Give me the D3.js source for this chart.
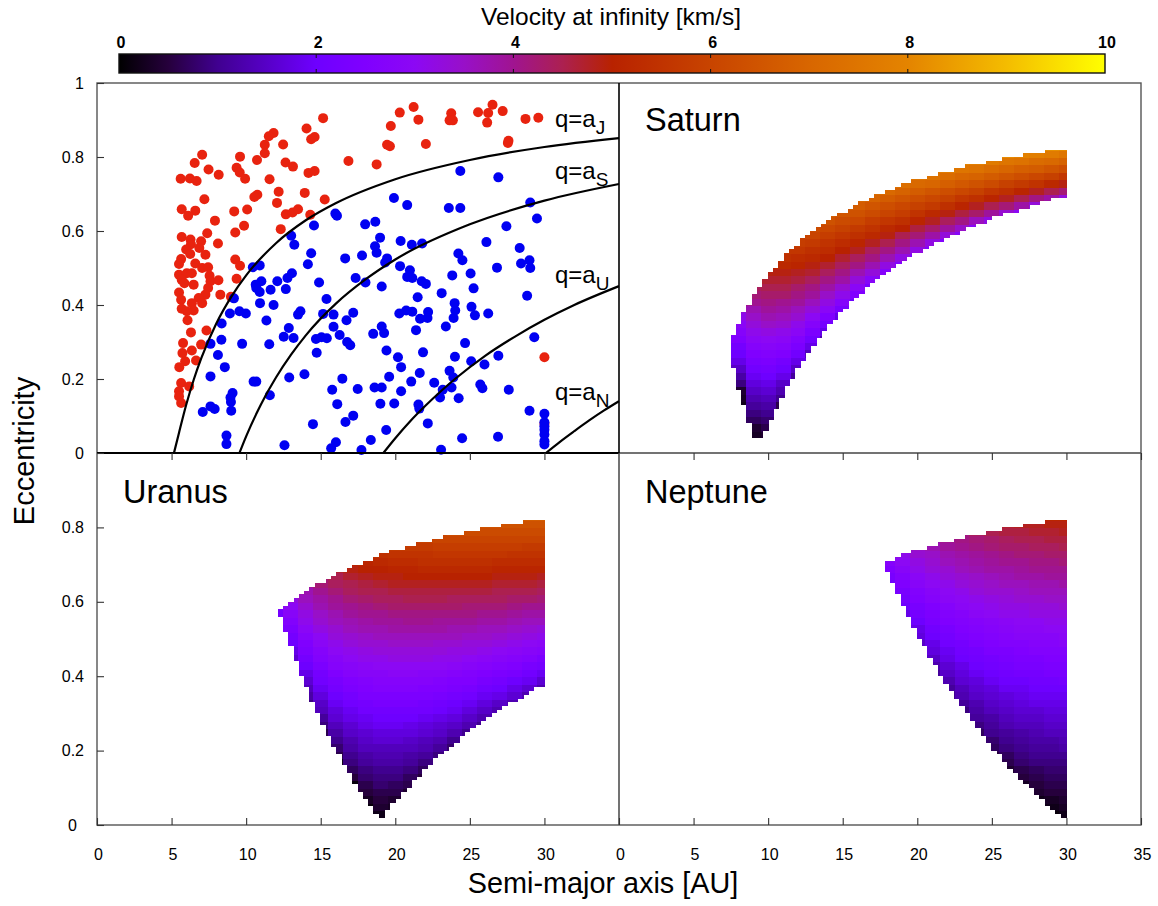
<!DOCTYPE html>
<html>
<head>
<meta charset="utf-8">
<script src="https://cdn.jsdelivr.net/npm/d3@7"></script>
<style>
body { margin: 0; background: #fff; }
text { font-family: "Liberation Sans", Arial, sans-serif; fill: #000; }
</style>
</head>
<body>
<script>
// colour scale of the bar, km/s -> colour
var paletteV = [0, .5, 1, 2, 2.5, 3, 3.5, 4, 4.5, 5, 6, 7, 8, 9, 10];
var paletteC = ['#000000', '#26003c', '#400090', '#6e00ff', '#8000ff', '#8c08f4', '#9810c8', '#a01490', '#ac2050', '#b82200', '#c84400', '#d86600', '#e48400', '#f4bc00', '#ffff00'];
var barTicks = [0, 2, 4, 6, 8, 10];

var xTicksLeft = [0, 5, 10, 15, 20, 25, 30];
var xTicksRight = [0, 5, 10, 15, 20, 25, 30, 35];
var yTicksTop = [0, .2, .4, .6, .8, 1];
var yTicksBottom = [0, .2, .4, .6, .8];

// objects of the first panel
var redA = [15.16,20.3,21.23,21.55,19.7,23.75,23.64,23.86,25.55,26.52,26.23,26.16,27.2,28.73,29.59,14.05,14.36,14.59,11.84,11.52,12.48,11.25,11.25,19.45,19.64,22.05,27.59,27.55,7.05,9.59,10.73,6.55,7.48,8.16,9.36,9.57,9.93,12.64,13.14,14.18,14.59,16.86,18.75,5.61,6.23,6.68,11.57,12.18,13.93,10.75,10.55,7.2,15.27,12.07,5.68,6.59,6.11,9.2,10.07,12.66,13.11,13.48,14.3,7.91,9.86,7.39,9.27,12.32,5.68,6.27,6.98,8.11,6.3,5.98,6.86,7.27,6.25,5.64,5.5,9.27,9.59,6.59,7.05,7.45,5.5,6.02,6.36,5.68,5.86,6.48,7.55,7.61,8.14,9.36,7.45,7.27,5.5,6.82,8.27,8.98,5.64,6.36,7.05,5.68,6.48,6.02,6.07,6.3,7.34,5.77,6.98,6.36,5.73,5.91,6.64,5.52,5.64,6.18,5.5,5.5,5.64,30,30];
var redE = [.905,.92,.935,.901,.884,.918,.899,.899,.921,.941,.919,.893,.924,.903,.906,.877,.848,.854,.865,.856,.834,.833,.81,.833,.829,.835,.844,.838,.806,.801,.792,.784,.766,.752,.771,.758,.741,.785,.774,.757,.762,.789,.78,.741,.742,.735,.74,.706,.703,.698,.692,.686,.685,.676,.659,.655,.641,.653,.658,.645,.65,.659,.644,.628,.614,.594,.596,.605,.584,.577,.572,.566,.564,.55,.554,.536,.538,.524,.511,.523,.506,.512,.5,.502,.482,.486,.486,.468,.459,.455,.479,.464,.467,.471,.446,.428,.434,.419,.428,.422,.414,.405,.405,.39,.385,.383,.359,.326,.331,.297,.293,.277,.27,.248,.25,.232,.189,.18,.167,.153,.135,.259,.079];
var blueA = [24.36,26.91,19.91,20.8,23.59,24.36,29.05,29.5,27.45,15.98,16.09,14.55,17.98,18.66,13.02,13.23,18.98,20.36,21.11,21.8,26.11,28.34,14.36,14.14,16.64,17.77,18.64,18.75,19.45,19.32,24.23,24.5,26.82,28.43,29,29.05,20.32,20.98,20.8,21.14,21.77,22.05,23.82,25.05,25.25,23.11,21.5,28.84,10.45,10.91,13.07,12.77,12.09,11.02,10.64,12.66,11.64,10.91,10.68,14.89,17.34,18,19.09,9.18,10.93,15.39,23.98,24.02,23.91,25.11,25.34,26.23,20.27,20.73,21.14,22.2,21.66,22.16,23.39,8.91,9.55,9.98,8.36,11.84,11.36,13.64,13.48,15.16,15.86,17.18,16.73,12.86,15.86,19.09,19.25,18.52,21.39,16.27,12.52,13.18,14.68,15.05,15.41,16.77,16.98,8.34,7.61,9.73,11.55,24.68,29.32,19.41,14.73,21.86,8.11,20.18,24,26.91,25.09,25.98,8.57,20.39,23.64,21.64,7.61,12.89,13.91,16.45,19.59,23.89,10.5,10.68,21.07,22.61,15.77,17.48,18.61,19.09,20.39,23.77,23.18,25.7,25.84,27.61,9.09,8.95,8.98,11.59,23,24.25,16.11,19,19.93,21.55,21.61,7.61,7.89,7.09,9,17.18,16.66,14.48,22.18,19.39,29,30,30,30,30,30,30,30,8.68,8.68,12.57,16.02,15.7,18.36,17.73,24.48,26.89,23.07];
var blueE = [.762,.745,.689,.67,.662,.662,.677,.634,.613,.647,.641,.615,.618,.625,.587,.563,.582,.573,.563,.566,.57,.554,.54,.51,.526,.534,.559,.541,.526,.515,.539,.521,.501,.512,.521,.5,.505,.494,.476,.473,.464,.457,.48,.485,.445,.432,.421,.425,.502,.507,.486,.473,.464,.464,.455,.443,.441,.435,.446,.461,.473,.461,.45,.418,.405,.416,.405,.385,.365,.395,.372,.377,.377,.385,.382,.381,.363,.365,.342,.377,.383,.377,.35,.4,.358,.383,.374,.376,.374,.379,.359,.338,.341,.342,.324,.322,.332,.319,.314,.311,.308,.313,.31,.3,.291,.306,.295,.295,.294,.297,.313,.277,.271,.272,.265,.259,.26,.263,.248,.239,.232,.232,.222,.216,.207,.204,.213,.201,.206,.204,.193,.193,.193,.19,.171,.173,.177,.177,.167,.177,.171,.185,.175,.171,.162,.15,.138,.156,.15,.148,.132,.133,.134,.131,.12,.126,.119,.111,.114,.101,.084,.078,.08,.062,.114,.106,.083,.072,.063,.05,.032,.023,.047,.024,.021,.029,.013,.035,.008,.04,.044,.009];

// the q = a_planet curves
var curveJA = [5.16,5.5,6,6.5,7,8,9,10,12,14,16,20,25,30,35];
var curveJE = [0,.055,.133,.2,.257,.35,.422,.48,.567,.629,.675,.74,.792,.827,.851];
var curveSA = [9.55,10,11,12,13,14,16,18,20,25,30,35];
var curveSE = [0,.045,.132,.204,.265,.318,.403,.469,.523,.618,.682,.727];
var curveUA = [19.2,20,21,22,23,24,26,28,30,32,35];
var curveUE = [0,.04,.086,.127,.165,.2,.262,.314,.36,.4,.451];
var curveNA = [30.1,31,32,33,34,35];
var curveNE = [0,.029,.059,.088,.115,.14];

// outline of the coloured regions, one entry per narrow column
var edgeA = [29.82,29.46,29.11,28.75,28.39,28.04,27.68,27.32,26.96,26.61,26.25,25.89,25.54,25.18,24.82,24.46,24.11,23.75,23.39,23.04,22.68,22.32,21.96,21.61,21.25,20.89,20.54,20.18,19.82,19.46,19.11,18.75,18.39,18.04,17.68,17.32,16.96,16.61,16.25,15.89,15.54,15.18,14.82,14.46,14.11,13.75,13.39,13.04,12.68,12.32,11.96,11.61,11.25,10.89,10.54,10.18,9.82,9.46,9.11,8.75,8.39,8.04,7.68];
var edgeTop = [.82,.82,.82,.82,.81,.81,.81,.81,.8,.8,.8,.8,.79,.79,.79,.78,.78,.78,.78,.77,.77,.76,.76,.76,.75,.75,.74,.74,.74,.73,.73,.72,.71,.71,.7,.7,.69,.68,.68,.67,.66,.65,.65,.64,.63,.62,.61,.6,.59,.58,.56,.55,.54,.52,.5,.49,.47,.45,.43,.4,.38,.35,.32];
var saturnBottom = [.69,.69,.69,.68,.68,.67,.67,.66,.66,.65,.65,.65,.64,.64,.63,.62,.62,.61,.61,.6,.59,.59,.58,.57,.57,.56,.55,.54,.54,.53,.52,.51,.5,.49,.48,.47,.46,.45,.43,.42,.41,.39,.38,.36,.35,.33,.31,.29,.27,.25,.23,.2,.18,.15,.12,.09,.06,.04,.04,.08,.13,.17,.23];
var uranusBottom = [.37,.37,.36,.35,.34,.33,.33,.32,.31,.3,.29,.28,.27,.26,.25,.24,.22,.21,.2,.19,.18,.16,.15,.13,.12,.1,.09,.07,.06,.04,.02,.03,.05,.07,.09,.11,.14,.16,.19,.21,.24,.27,.3,.33,.37,.4,.44,.48,.52,.56];
var neptuneBottom = [.02,.03,.04,.05,.07,.08,.1,.11,.12,.14,.15,.17,.19,.2,.22,.24,.26,.28,.3,.32,.34,.36,.38,.4,.43,.45,.48,.5,.53,.56,.59,.62,.65,.68];

// velocity read column by column, rows are 0.02 tall and start at the *Start value
var saturnCol = [8,9,10,11,12,13,14,15,16,17,18,19,20,21,22,23,24,25,26,27,28,29,30];
var saturnStart = [.12,.02,.04,.1,.18,.26,.3,.36,.4,.44,.46,.5,.52,.54,.56,.58,.6,.62,.64,.64,.66,.66,.68];
var saturnV = [
[.2,.3,.4,.9,1.2,1.5,1.8,2,2.2,2.5,2.7,2.9,3.1,3.3],
[.3,.3,.4,.7,.9,1.1,1.3,1.5,1.7,1.9,2.1,2.3,2.5,2.7,2.9,3.1,3.3,3.5,3.7,4,4.2,4.4],
[.4,.6,.8,1,1.2,1.4,1.6,1.8,2,2.2,2.4,2.6,2.8,3,3.2,3.5,3.7,3.9,4.1,4.3,4.5,4.7,4.9,5.1],
[.3,.6,1,1.3,1.5,1.8,2,2.2,2.5,2.7,2.9,3.1,3.4,3.6,3.8,4,4.3,4.5,4.7,4.9,5.2,5.4,5.6],
[.6,1.1,1.5,1.8,2.1,2.4,2.6,2.9,3.1,3.4,3.6,3.9,4.1,4.3,4.6,4.8,5.1,5.3,5.6,5.8],
[1.4,1.8,2.1,2.4,2.7,3,3.3,3.6,3.9,4.1,4.4,4.7,4.9,5.2,5.4,5.7,6,6.2],
[1.3,1.8,2.2,2.5,2.9,3.2,3.5,3.8,4.1,4.4,4.7,5,5.3,5.5,5.8,6.1,6.4,6.7],
[1.8,2.3,2.7,3.1,3.4,3.8,4.1,4.4,4.7,5,5.3,5.6,5.9,6.2,6.5],
[2,2.5,2.9,3.3,3.7,4.1,4.4,4.8,5.1,5.4,5.7,6.1,6.4,6.7,7],
[2.3,2.8,3.3,3.7,4.1,4.4,4.8,5.2,5.5,5.8,6.2,6.5,6.9,7.2],
[2.1,2.7,3.2,3.7,4.1,4.5,4.9,5.2,5.6,6,6.3,6.7,7.1,7.4],
[2.6,3.2,3.7,4.1,4.5,5,5.4,5.8,6.1,6.5,6.9,7.3],
[2.6,3.2,3.7,4.2,4.6,5.1,5.5,5.9,6.3,6.7,7.1,7.5],
[2.6,3.2,3.8,4.3,4.8,5.2,5.7,6.1,6.5,7,7.4,7.8],
[2.6,3.3,3.9,4.4,4.9,5.4,5.9,6.3,6.8,7.2,7.7],
[2.8,3.5,4.1,4.6,5.1,5.6,6.1,6.6,7,7.5,8],
[2.9,3.6,4.3,4.8,5.4,5.9,6.4,6.9,7.4,7.8],
[3.2,3.9,4.5,5.1,5.6,6.2,6.7,7.2,7.7],
[3.4,4.2,4.8,5.4,5.9,6.5,7,7.5,8.1],
[3,3.8,4.5,5.1,5.7,6.3,6.8,7.4,7.9],
[3.3,4.1,4.8,5.5,6.1,6.7,7.2,7.8,8.4],
[2.8,3.8,4.5,5.2,5.9,6.5,7.1,7.7,8.2],
[3.3,4.2,4.9,5.6,6.3,6.9,7.5,8.1]
];

var uranusCol = [12,13,14,15,16,17,18,19,20,21,22,23,24,25,26,27,28,29,30];
var uranusStart = [.54,.42,.32,.24,.16,.1,.04,.02,.04,.08,.12,.16,.2,.24,.26,.3,.32,.34,.36];
var uranusV = [
[1.9,2.2,2.4],
[1.3,1.6,1.8,2,2.2,2.4,2.6,2.8,3,3.2],
[.9,1.2,1.4,1.6,1.8,2,2.2,2.4,2.5,2.7,2.9,3.1,3.2,3.4,3.6,3.7,3.9],
[.6,.9,1.1,1.4,1.5,1.7,1.9,2.1,2.2,2.4,2.6,2.7,2.9,3,3.2,3.4,3.5,3.7,3.8,4,4.2],
[.2,.6,.8,1,1.2,1.4,1.6,1.7,1.9,2,2.2,2.3,2.5,2.7,2.8,3,3.1,3.3,3.4,3.6,3.7,3.9,4,4.2,4.4,4.5,4.7],
[.1,.5,.7,.9,1,1.2,1.3,1.5,1.6,1.8,1.9,2.1,2.2,2.4,2.5,2.7,2.8,3,3.1,3.3,3.4,3.6,3.7,3.9,4,4.2,4.4,4.5,4.7,4.9,5],
[.1,.3,.5,.6,.8,.9,1.1,1.2,1.4,1.5,1.6,1.8,1.9,2.1,2.2,2.4,2.5,2.6,2.8,2.9,3.1,3.2,3.4,3.5,3.7,3.8,4,4.1,4.3,4.5,4.6,4.8,5,5.1],
[.2,.4,.5,.6,.8,.9,1,1.2,1.3,1.4,1.6,1.7,1.9,2,2.1,2.3,2.4,2.6,2.7,2.8,3,3.1,3.3,3.4,3.6,3.7,3.9,4,4.2,4.4,4.5,4.7,4.9,5,5.2,5.4],
[.3,.4,.6,.7,.9,1,1.2,1.3,1.4,1.6,1.7,1.9,2,2.1,2.3,2.4,2.6,2.7,2.9,3,3.2,3.3,3.5,3.6,3.8,3.9,4.1,4.3,4.4,4.6,4.8,4.9,5.1,5.3,5.5,5.7],
[.4,.6,.7,.9,1.1,1.2,1.4,1.5,1.7,1.8,2,2.1,2.3,2.4,2.6,2.7,2.9,3,3.2,3.3,3.5,3.6,3.8,4,4.1,4.3,4.5,4.6,4.8,5,5.1,5.3,5.5,5.7],
[.5,.7,.9,1.1,1.3,1.4,1.6,1.7,1.9,2.1,2.2,2.4,2.5,2.7,2.8,3,3.2,3.3,3.5,3.6,3.8,4,4.1,4.3,4.5,4.6,4.8,5,5.2,5.4,5.5,5.7,5.9],
[.6,.9,1.1,1.3,1.5,1.6,1.8,2,2.1,2.3,2.5,2.6,2.8,3,3.1,3.3,3.4,3.6,3.8,3.9,4.1,4.3,4.5,4.6,4.8,5,5.2,5.4,5.6,5.8,6],
[.8,1,1.3,1.5,1.7,1.9,2,2.2,2.4,2.5,2.7,2.9,3.1,3.2,3.4,3.6,3.7,3.9,4.1,4.3,4.4,4.6,4.8,5,5.2,5.4,5.6,5.8,6,6.2],
[1,1.3,1.5,1.7,1.9,2.1,2.3,2.5,2.6,2.8,3,3.2,3.3,3.5,3.7,3.9,4.1,4.2,4.4,4.6,4.8,5,5.2,5.4,5.6,5.8,6,6.2],
[1,1.3,1.5,1.7,1.9,2.1,2.3,2.5,2.7,2.9,3.1,3.3,3.5,3.6,3.8,4,4.2,4.4,4.6,4.8,5,5.2,5.4,5.6,5.8,6,6.2,6.4],
[1.3,1.5,1.8,2,2.2,2.4,2.6,2.8,3,3.2,3.4,3.6,3.8,4,4.2,4.4,4.5,4.7,4.9,5.1,5.3,5.6,5.8,6,6.2,6.4],
[1.3,1.6,1.8,2,2.3,2.5,2.7,2.9,3.1,3.3,3.5,3.7,3.9,4.1,4.3,4.5,4.7,4.9,5.1,5.3,5.5,5.8,6,6.2,6.4,6.7],
[1.3,1.6,1.9,2.1,2.3,2.6,2.8,3,3.2,3.4,3.6,3.8,4,4.3,4.5,4.7,4.9,5.1,5.3,5.5,5.7,6,6.2,6.4,6.7],
[1.3,1.6,1.9,2.2,2.4,2.7,2.9,3.1,3.3,3.6,3.8,4,4.2,4.4,4.6,4.8,5.1,5.3,5.5,5.7,6,6.2,6.4,6.7]
];

var neptuneCol = [18,19,20,21,22,23,24,25,26,27,28,29,30];
var neptuneStart = [.64,.56,.48,.4,.34,.3,.24,.18,.14,.1,.06,.02,.02];
var neptuneV = [
[2.1,2.3,2.5,2.7],
[1.8,2,2.2,2.3,2.5,2.6,2.8,3,3.1],
[1.5,1.7,1.8,2,2.2,2.3,2.5,2.6,2.8,2.9,3.1,3.2,3.4,3.5],
[1.1,1.3,1.5,1.7,1.8,2,2.1,2.3,2.4,2.5,2.7,2.8,3,3.1,3.3,3.4,3.5,3.7],
[1,1.1,1.3,1.5,1.6,1.8,1.9,2.1,2.2,2.3,2.5,2.6,2.7,2.9,3,3.1,3.3,3.4,3.6,3.7,3.9,4],
[.9,1.1,1.3,1.4,1.6,1.7,1.8,2,2.1,2.2,2.4,2.5,2.6,2.7,2.9,3,3.1,3.3,3.4,3.6,3.7,3.8,4,4.1],
[.7,.9,1.1,1.2,1.3,1.5,1.6,1.7,1.9,2,2.1,2.2,2.4,2.5,2.6,2.7,2.9,3,3.1,3.3,3.4,3.5,3.7,3.8,3.9,4.1,4.2,4.4],
[.5,.7,.8,1,1.1,1.2,1.4,1.5,1.6,1.7,1.9,2,2.1,2.2,2.4,2.5,2.6,2.7,2.8,3,3.1,3.2,3.4,3.5,3.6,3.8,3.9,4,4.2,4.3,4.5],
[.4,.6,.7,.9,1,1.1,1.3,1.4,1.5,1.6,1.7,1.9,2,2.1,2.2,2.3,2.4,2.6,2.7,2.8,2.9,3.1,3.2,3.3,3.4,3.6,3.7,3.8,4,4.1,4.3,4.4,4.6,4.7],
[.3,.5,.6,.8,.9,1,1.1,1.2,1.4,1.5,1.6,1.7,1.8,1.9,2,2.2,2.3,2.4,2.5,2.6,2.8,2.9,3,3.1,3.2,3.4,3.5,3.6,3.8,3.9,4,4.2,4.3,4.5,4.6,4.8],
[.2,.4,.5,.6,.7,.9,1,1.1,1.2,1.3,1.4,1.5,1.6,1.8,1.9,2,2.1,2.2,2.3,2.4,2.6,2.7,2.8,2.9,3,3.2,3.3,3.4,3.6,3.7,3.8,4,4.1,4.2,4.4,4.5,4.7,4.8,5],
[.1,.2,.3,.5,.6,.7,.8,.9,1,1.1,1.2,1.4,1.5,1.6,1.7,1.8,1.9,2,2.1,2.3,2.4,2.5,2.6,2.7,2.8,3,3.1,3.2,3.3,3.5,3.6,3.7,3.9,4,4.1,4.3,4.4,4.6,4.7,4.9,5.1],
[.2,.3,.4,.5,.6,.7,.8,.9,1,1.2,1.3,1.4,1.5,1.6,1.7,1.8,1.9,2,2.2,2.3,2.4,2.5,2.6,2.8,2.9,3,3.1,3.2,3.4,3.5,3.6,3.8,3.9,4,4.2,4.3,4.5,4.6,4.8,4.9,5.1]
];

var ROW_H = 0.02,
    EDGE_HALF = 0.1785,
    DOT_R = 5,
    TICK = 7;

var width = 1158, height = 906;
var LEFT = 97, MID = 619, RIGHT = 1141, TOP = 83, MIDY = 453, BOTTOM = 825;

var svg = d3.select('body').append('svg')
    .attr('width', width)
    .attr('height', height)
    .style('display', 'block');

var color = d3.scaleLinear().domain(paletteV).range(paletteC).clamp(true);

var xLeft = d3.scaleLinear().domain([0, 35]).range([LEFT, MID]),
    xRight = d3.scaleLinear().domain([0, 35]).range([MID, RIGHT]),
    yTop = d3.scaleLinear().domain([0, 1]).range([MIDY, TOP]),
    yBottom = d3.scaleLinear().domain([0, 1]).range([BOTTOM, MIDY]);

// heat regions: cells from the velocity table, trimmed by the stepped outline
function drawRegion(id, x, y, cols, starts, values, bottoms) {
    var clip = svg.append('clipPath').attr('id', id);
    // rounded to whole pixels so neighbouring columns leave no seam
    clip.selectAll('rect').data(bottoms).enter().append('rect')
        .attr('x', function (d, i) { return Math.floor(x(edgeA[i] - EDGE_HALF)); })
        .attr('width', function (d, i) { return Math.ceil(x(edgeA[i] + EDGE_HALF)) - Math.floor(x(edgeA[i] - EDGE_HALF)); })
        .attr('y', function (d, i) { return Math.round(y(edgeTop[i])); })
        .attr('height', function (d, i) { return Math.round(y(d)) - Math.round(y(edgeTop[i])); });

    var cells = [];
    values.forEach(function (col, i) {
        col.forEach(function (v, j) {
            cells.push({ a: cols[i], e: starts[i] + j * ROW_H, v: v });
        });
    });

    svg.append('g').attr('clip-path', 'url(#' + id + ')')
        .attr('shape-rendering', 'crispEdges')
        .selectAll('rect').data(cells).enter().append('rect')
        .attr('x', function (d) { return x(d.a - 0.5); })
        .attr('width', function (d) { return x(d.a + 0.5) - x(d.a - 0.5) + 1; })
        .attr('y', function (d) { return y(d.e + ROW_H); })
        .attr('height', function (d) { return y(d.e) - y(d.e + ROW_H) + 1; })
        .attr('fill', function (d) { return color(d.v); });
}

drawRegion('clipSaturn', xRight, yTop, saturnCol, saturnStart, saturnV, saturnBottom);
drawRegion('clipUranus', xLeft, yBottom, uranusCol, uranusStart, uranusV, uranusBottom);
drawRegion('clipNeptune', xRight, yBottom, neptuneCol, neptuneStart, neptuneV, neptuneBottom);

// first panel: objects and curves
function drawDots(as, es, fill) {
    svg.append('g').selectAll('circle').data(as).enter().append('circle')
        .attr('cx', function (d) { return xLeft(d); })
        .attr('cy', function (d, i) { return yTop(es[i]); })
        .attr('r', DOT_R)
        .attr('fill', fill);
}
drawDots(redA, redE, '#e8230f');
drawDots(blueA, blueE, '#0000f2');

var curveLine = d3.line()
    .x(function (d) { return xLeft(d[0]); })
    .y(function (d) { return yTop(d[1]); })
    .curve(d3.curveMonotoneX);

[[curveJA, curveJE], [curveSA, curveSE], [curveUA, curveUE], [curveNA, curveNE]].forEach(function (c) {
    svg.append('path')
        .attr('d', curveLine(d3.zip(c[0], c[1])))
        .attr('fill', 'none')
        .attr('stroke', '#000')
        .attr('stroke-width', 2.2);
});

function qLabel(sub, y) {
    var t = svg.append('text').attr('x', 555).attr('y', y).style('font-size', '24px');
    t.append('tspan').text('q=a');
    t.append('tspan').attr('dy', 7).style('font-size', '19px').text(sub);
}
qLabel('J', 127);
qLabel('S', 179);
qLabel('U', 283);
qLabel('N', 400);

// frame
svg.append('rect')
    .attr('x', LEFT).attr('y', TOP)
    .attr('width', RIGHT - LEFT).attr('height', BOTTOM - TOP)
    .attr('fill', 'none').attr('stroke', '#555').attr('stroke-width', 1.4);

function rule(x1, y1, x2, y2, col, w) {
    svg.append('line')
        .attr('x1', x1).attr('y1', y1).attr('x2', x2).attr('y2', y2)
        .attr('stroke', col).attr('stroke-width', w);
}
rule(LEFT, MIDY, MID, MIDY, '#000', 2);
rule(MID, MIDY, RIGHT, MIDY, '#444', 1.5);
rule(MID, TOP, MID, MIDY, '#000', 1.6);
rule(MID, MIDY, MID, BOTTOM, '#444', 1.5);

// axes, all ticks point inwards
function styleAxis(g, size) {
    g.select('.domain').remove();
    g.selectAll('.tick line').attr('stroke', '#333').attr('stroke-width', 1.1);
    g.selectAll('text').style('font-size', size + 'px').attr('fill', '#000');
}

function bottomAxis(x, ticks) {
    var g = svg.append('g')
        .attr('transform', 'translate(0,' + BOTTOM + ')')
        .call(d3.axisBottom(x).tickValues(ticks).tickSize(-TICK).tickPadding(24).tickFormat(d3.format('d')));
    styleAxis(g, 16);
    g.selectAll('text').attr('dx', 1);
    svg.append('g')
        .attr('transform', 'translate(0,' + MIDY + ')')
        .call(d3.axisTop(x).tickValues(ticks.slice(1)).tickSize(-TICK).tickFormat(''))
        .call(styleAxis, 16);
}
bottomAxis(xLeft, xTicksLeft);
bottomAxis(xRight, xTicksRight);

var yFormat = function (d) { return (d === 0 || d === 1) ? String(d) : d3.format('.1f')(d); };

var gTop = svg.append('g')
    .attr('transform', 'translate(' + LEFT + ',0)')
    .call(d3.axisLeft(yTop).tickValues(yTicksTop).tickSize(-TICK).tickPadding(13).tickFormat(yFormat))
    .call(styleAxis, 16);
var gBottom = svg.append('g')
    .attr('transform', 'translate(' + LEFT + ',0)')
    .call(d3.axisLeft(yBottom).tickValues(yTicksBottom).tickSize(-TICK).tickPadding(13).tickFormat(yFormat))
    .call(styleAxis, 16);
gBottom.selectAll('.tick').filter(function (d) { return d === 0; }).select('text').attr('dx', -7);

// panel names
function panelName(name, x, y) {
    svg.append('text').attr('x', x).attr('y', y).style('font-size', '32.5px').text(name);
}
panelName('Saturn', 645, 131);
panelName('Uranus', 123, 503);
panelName('Neptune', 645, 503);

// colour bar
var barX = d3.scaleLinear().domain([0, 10]).range([119, 1105]);
var BAR_Y = 54, BAR_H = 19;

var grad = svg.append('defs').append('linearGradient').attr('id', 'barGrad');
grad.selectAll('stop').data(paletteV).enter().append('stop')
    .attr('offset', function (d) { return d / 10; })
    .attr('stop-color', function (d, i) { return paletteC[i]; });

svg.append('rect')
    .attr('x', barX(0)).attr('y', BAR_Y)
    .attr('width', barX(10) - barX(0)).attr('height', BAR_H)
    .attr('fill', 'url(#barGrad)')
    .attr('stroke', '#111').attr('stroke-width', 1.4);

var barAxis = svg.append('g')
    .attr('transform', 'translate(0,' + BAR_Y + ')')
    .call(d3.axisTop(barX).tickValues(barTicks).tickSize(0).tickPadding(6).tickFormat(d3.format('d')));
barAxis.select('.domain').remove();
barAxis.selectAll('text').style('font-size', '16px').style('font-weight', 'bold').attr('dx', 1.5).attr('fill', '#000');

barTicks.slice(1, -1).forEach(function (v) {
    rule(barX(v), BAR_Y, barX(v), BAR_Y + 4, '#111', 1);
    rule(barX(v), BAR_Y + BAR_H - 4, barX(v), BAR_Y + BAR_H, '#111', 1);
});

// titles
svg.append('text').attr('x', 611).attr('y', 25)
    .attr('text-anchor', 'middle').style('font-size', '24.5px')
    .text('Velocity at infinity [km/s]');
svg.append('text').attr('x', 603).attr('y', 893)
    .attr('text-anchor', 'middle').style('font-size', '28.8px')
    .text('Semi-major axis [AU]');
svg.append('text')
    .attr('transform', 'translate(34,451) rotate(-90)')
    .attr('text-anchor', 'middle').style('font-size', '29px')
    .text('Eccentricity');
</script>
</body>
</html>
